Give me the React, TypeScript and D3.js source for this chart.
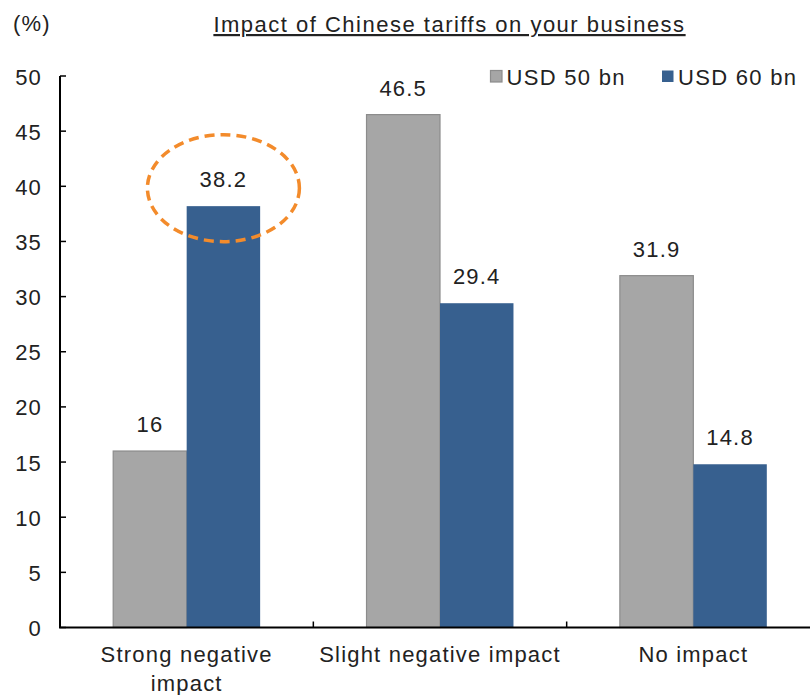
import React from "react";
import * as d3 from "d3";

const categories = ["Strong negative impact", "Slight negative impact", "No impact"];
const categoryLines = [["Strong negative", "impact"], ["Slight negative impact"], ["No impact"]];
const seriesNames = ["USD 50 bn", "USD 60 bn"];
const usd50 = [16, 46.5, 31.9];
const usd60 = [38.2, 29.4, 14.8];
const yTicks = [0, 5, 10, 15, 20, 25, 30, 35, 40, 45, 50];

const W = 810;
const H = 695;
const FONT = "'Liberation Sans', Arial, sans-serif";
const TEXT = "#222";
const GRAY = "#a6a6a6";
const GRAY_EDGE = "#8c8c8c";
const BLUE = "#37608f";
const ORANGE = "#f38b2b";

export default function App() {
  const x = d3.scaleBand<string>().domain(categories).range([60, 820]).paddingInner(0).paddingOuter(0);
  const inner = d3
    .scaleBand<string>()
    .domain(seriesNames)
    .range([0, x.bandwidth()])
    .paddingOuter(0.724)
    .paddingInner(0);
  const y = d3.scaleLinear().domain([0, 50]).range([627.5, 76]);
  const series = [usd50, usd60];
  const fills = [GRAY, BLUE];
  const strokes = [GRAY_EDGE, "none"];

  const hlCat = categories[0];
  const hlX = (x(hlCat) ?? 0) + (inner(seriesNames[1]) ?? 0) + inner.bandwidth() / 2;
  const hlY = y(usd60[0]) - 18;

  return (
    <div style={{ position: "absolute", left: 0, top: 0 }}>
      <svg width={W} height={H} style={{ display: "block", background: "#fff" }} fontFamily={FONT}>
        {/* title */}
        <text
          x={449.5}
          y={32}
          textAnchor="middle"
          fontSize={22}
          letterSpacing={1.5}
          fill={TEXT}
          textDecoration="underline"
        >
          Impact of Chinese tariffs on your business
        </text>
        <text x={13} y={31} fontSize={22} letterSpacing={1.2} fill={TEXT}>
          (%)
        </text>

        {/* bars */}
        {series.map((vals, si) =>
          categories.map((c, ci) => {
            const bx = (x(c) ?? 0) + (inner(seriesNames[si]) ?? 0);
            const by = y(vals[ci]);
            return (
              <g key={`${si}-${ci}`}>
                <rect
                  x={bx}
                  y={by}
                  width={inner.bandwidth()}
                  height={y(0) - by}
                  fill={fills[si]}
                  stroke={strokes[si]}
                  strokeWidth={1.2}
                />
                <text
                  x={bx + inner.bandwidth() / 2}
                  y={by - 19}
                  textAnchor="middle"
                  fontSize={22}
                  letterSpacing={1.2}
                  fill={TEXT}
                >
                  {vals[ci]}
                </text>
              </g>
            );
          })
        )}

        {/* y axis */}
        <line x1={60} x2={60} y1={y(50)} y2={y(0)} stroke="#000" strokeWidth={2} />
        {yTicks.map((t) => (
          <g key={t}>
            <line x1={60} x2={66} y1={y(t)} y2={y(t)} stroke="#000" strokeWidth={1.5} />
            <text x={42} y={y(t) + 8.5} textAnchor="end" fontSize={22} letterSpacing={1.2} fill={TEXT}>
              {t}
            </text>
          </g>
        ))}

        {/* x axis */}
        <line x1={59} x2={W} y1={y(0)} y2={y(0)} stroke="#000" strokeWidth={2} />
        {categories.slice(1).map((c) => (
          <line key={c} x1={x(c)} x2={x(c)} y1={y(0)} y2={y(0) - 6} stroke="#000" strokeWidth={1.5} />
        ))}
        {categories.map((c, ci) => (
          <text
            key={c}
            x={(x(c) ?? 0) + x.bandwidth() / 2}
            y={662}
            textAnchor="middle"
            fontSize={22}
            letterSpacing={1.2}
            fill={TEXT}
          >
            {categoryLines[ci].map((ln, li) => (
              <tspan key={li} x={(x(c) ?? 0) + x.bandwidth() / 2} dy={li === 0 ? 0 : 29}>
                {ln}
              </tspan>
            ))}
          </text>
        ))}

        {/* legend */}
        {seriesNames.map((s, si) => {
          const lx = [490.5, 662][si];
          return (
            <g key={s}>
              <rect
                x={lx}
                y={70.5}
                width={11.5}
                height={11.5}
                fill={fills[si]}
                stroke={si === 0 ? GRAY_EDGE : "none"}
                strokeWidth={1.2}
              />
              <text x={lx + 16} y={85} fontSize={22} letterSpacing={1.3} fill={TEXT}>
                {s}
              </text>
            </g>
          );
        })}

        {/* highlight around the largest strong-negative reading */}
        <ellipse
          cx={hlX}
          cy={hlY}
          rx={76}
          ry={53.5}
          fill="none"
          stroke={ORANGE}
          strokeWidth={3.5}
          strokeDasharray="10 6"
        />
      </svg>
    </div>
  );
}
